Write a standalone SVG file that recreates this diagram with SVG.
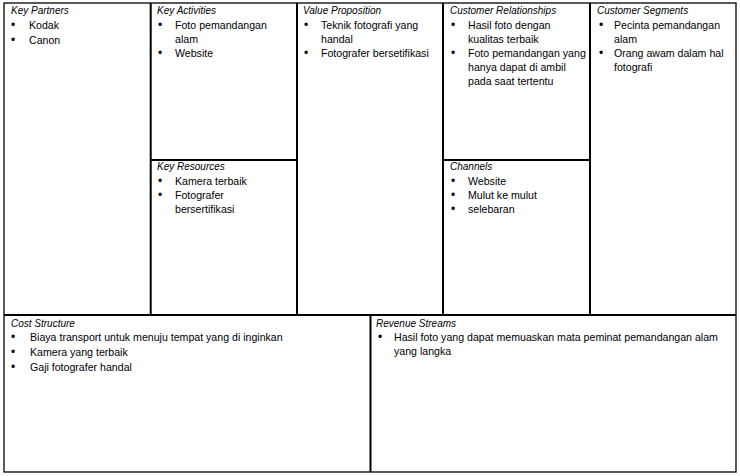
<svg xmlns="http://www.w3.org/2000/svg" width="740" height="476" viewBox="0 0 740 476">
<style>
.bg{fill:#ffffff}
.outer{fill:none;stroke:#000;stroke-width:1.3}
.ln{stroke:#000;stroke-width:2}
.t{font-family:"Liberation Sans",Arial,sans-serif;font-size:10px;font-style:italic;fill:#000}
.b{font-family:"Liberation Sans",Arial,sans-serif;font-size:10.6px;fill:#000}
.d{font-family:"Liberation Sans",Arial,sans-serif;font-size:12px;fill:#000}
</style>
<rect class="bg" x="0" y="0" width="740" height="476"/>
<g id="frame">
<rect class="outer" x="4" y="3" width="732" height="469"/>
<line class="ln" x1="150.7" y1="3" x2="150.7" y2="315"/>
<line class="ln" x1="297" y1="3" x2="297" y2="315"/>
<line class="ln" x1="443" y1="3" x2="443" y2="315"/>
<line class="ln" x1="590" y1="3" x2="590" y2="315"/>
<line class="ln" x1="150.7" y1="160" x2="297" y2="160"/>
<line class="ln" x1="443" y1="160" x2="590" y2="160"/>
<line class="ln" x1="4" y1="315" x2="736" y2="315"/>
<line class="ln" x1="370.5" y1="315" x2="370.5" y2="472"/>
</g>
<g id="key-partners">
<text class="t" x="11" y="14">Key Partners</text>
<text class="d" x="11" y="29">•</text><text class="b" x="29" y="29">Kodak</text>
<text class="d" x="11" y="44">•</text><text class="b" x="29" y="44">Canon</text>
</g>
<g id="key-activities">
<text class="t" x="157" y="14">Key Activities</text>
<text class="d" x="158" y="29">•</text><text class="b" x="175" y="29">Foto pemandangan</text>
<text class="b" x="175" y="43">alam</text>
<text class="d" x="158" y="57">•</text><text class="b" x="175" y="57">Website</text>
</g>
<g id="key-resources">
<text class="t" x="157" y="170">Key Resources</text>
<text class="d" x="158" y="185">•</text><text class="b" x="175" y="185">Kamera terbaik</text>
<text class="d" x="158" y="199">•</text><text class="b" x="175" y="199">Fotografer</text>
<text class="b" x="175" y="213">bersertifikasi</text>
</g>
<g id="value-proposition">
<text class="t" x="303" y="14">Value Proposition</text>
<text class="d" x="304" y="29">•</text><text class="b" x="321" y="29">Teknik fotografi yang</text>
<text class="b" x="321" y="43">handal</text>
<text class="d" x="304" y="57">•</text><text class="b" x="321" y="57">Fotografer bersetifikasi</text>
</g>
<g id="customer-relationships">
<text class="t" x="450" y="14">Customer Relationships</text>
<text class="d" x="451" y="29">•</text><text class="b" x="468" y="29">Hasil foto dengan</text>
<text class="b" x="468" y="43">kualitas terbaik</text>
<text class="d" x="451" y="57">•</text><text class="b" x="468" y="57">Foto pemandangan yang</text>
<text class="b" x="468" y="71">hanya dapat di ambil</text>
<text class="b" x="468" y="85">pada saat tertentu</text>
</g>
<g id="channels">
<text class="t" x="450" y="170">Channels</text>
<text class="d" x="451" y="185">•</text><text class="b" x="468" y="185">Website</text>
<text class="d" x="451" y="199">•</text><text class="b" x="468" y="199">Mulut ke mulut</text>
<text class="d" x="451" y="213">•</text><text class="b" x="468" y="213">selebaran</text>
</g>
<g id="customer-segments">
<text class="t" x="597" y="14">Customer Segments</text>
<text class="d" x="599" y="29">•</text><text class="b" x="614" y="29">Pecinta pemandangan</text>
<text class="b" x="614" y="43">alam</text>
<text class="d" x="599" y="57">•</text><text class="b" x="614" y="57">Orang awam dalam hal</text>
<text class="b" x="614" y="71">fotografi</text>
</g>
<g id="cost-structure">
<text class="t" x="11" y="327">Cost Structure</text>
<text class="d" x="11" y="341">•</text><text class="b" x="30" y="341">Biaya transport untuk menuju tempat yang di inginkan</text>
<text class="d" x="11" y="356">•</text><text class="b" x="30" y="356">Kamera yang terbaik</text>
<text class="d" x="11" y="371">•</text><text class="b" x="30" y="371">Gaji fotografer handal</text>
</g>
<g id="revenue-streams">
<text class="t" x="376" y="327">Revenue Streams</text>
<text class="d" x="378" y="341">•</text><text class="b" x="394" y="341">Hasil foto yang dapat memuaskan mata peminat pemandangan alam</text>
<text class="b" x="394" y="355">yang langka</text>
</g>
</svg>
